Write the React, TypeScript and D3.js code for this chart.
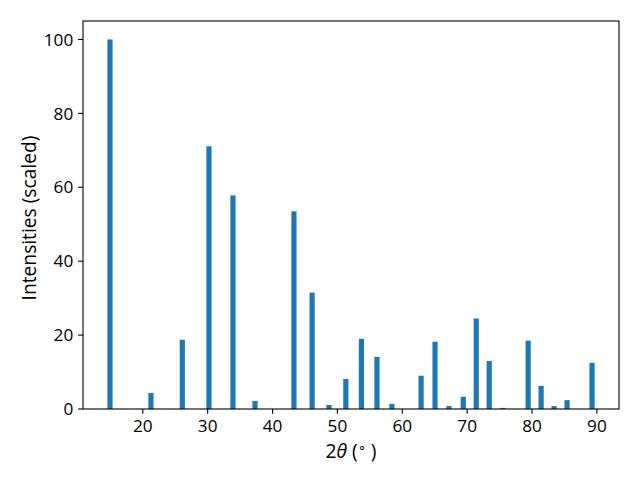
import React from "react";
import * as d3 from "d3";

const twoTheta = [14.94, 21.26, 26.09, 30.2, 33.9, 37.3, 43.3, 46.1, 48.7, 51.3, 53.7, 56.1, 58.4, 62.9, 65.05, 67.2, 69.4, 71.4, 73.4, 75.5, 79.4, 81.4, 83.4, 85.4, 89.25];
const intensities = [100, 4.35, 18.75, 71.1, 57.8, 2.2, 53.5, 31.5, 1.1, 8.15, 19.0, 14.1, 1.4, 9.0, 18.2, 0.8, 3.3, 24.5, 13.0, 0.3, 18.5, 6.25, 0.8, 2.4, 12.5];
const xTicks = [20, 30, 40, 50, 60, 70, 80, 90];
const yTicks = [0, 20, 40, 60, 80, 100];
const barWidth = 0.8;

export default function App() {
  const W = 640, H = 480;
  const left = 83, right = 619, top = 21, bottom = 409;
  const lo = d3.min(twoTheta)! - barWidth / 2;
  const hi = d3.max(twoTheta)! + barWidth / 2;
  const m = (hi - lo) * 0.05;
  const x = d3.scaleLinear().domain([lo - m, hi + m]).range([left, right]);
  const y = d3.scaleLinear().domain([0, 105]).range([bottom, top]);
  const font = "'Open Sans', 'Noto Sans', sans-serif";
  const fs = 17.2;
  const lfs = 19.2;
  const tick = 4.86;
  return (
    <svg width={W} height={H} style={{ position: "absolute", left: 0, top: 0, background: "#fff" }} fontFamily={font}>
      <rect x={0} y={0} width={W} height={H} fill="#fff" />
      {twoTheta.map((t, i) => {
        const x0 = x(t - barWidth / 2);
        const x1 = x(t + barWidth / 2);
        return <rect key={i} x={x0} y={y(intensities[i])} width={x1 - x0} height={y(0) - y(intensities[i])} fill="#1f77b4" />;
      })}
      <rect x={left} y={top} width={right - left} height={bottom - top} fill="none" stroke="#000" strokeWidth={1.1} />
      {xTicks.map((t) => (
        <g key={t}>
          <line x1={x(t)} x2={x(t)} y1={bottom} y2={bottom + tick} stroke="#000" strokeWidth={1.1} />
          <text x={x(t)} y={432.3} fontSize={fs} textAnchor="middle" fill="#000">{t}</text>
        </g>
      ))}
      {yTicks.map((t) => (
        <g key={t}>
          <line x1={left - tick} x2={left} y1={y(t)} y2={y(t)} stroke="#000" strokeWidth={1.1} />
          <text x={left - tick * 2} y={y(t)} dy="0.36em" fontSize={fs} textAnchor="end" fill="#000">{t}</text>
        </g>
      ))}
      <text x={(left + right) / 2} y={457.5} fontSize={lfs} textAnchor="middle" fill="#000">
        2<tspan fontStyle="italic">θ</tspan> (<tspan fontSize={lfs * 0.7} dy={-7}>∘</tspan><tspan dy={7}> )</tspan>
      </text>
      <text transform={`translate(35.5,218) rotate(-90)`} fontSize={lfs} textAnchor="middle" fill="#000">Intensities (scaled)</text>
    </svg>
  );
}
